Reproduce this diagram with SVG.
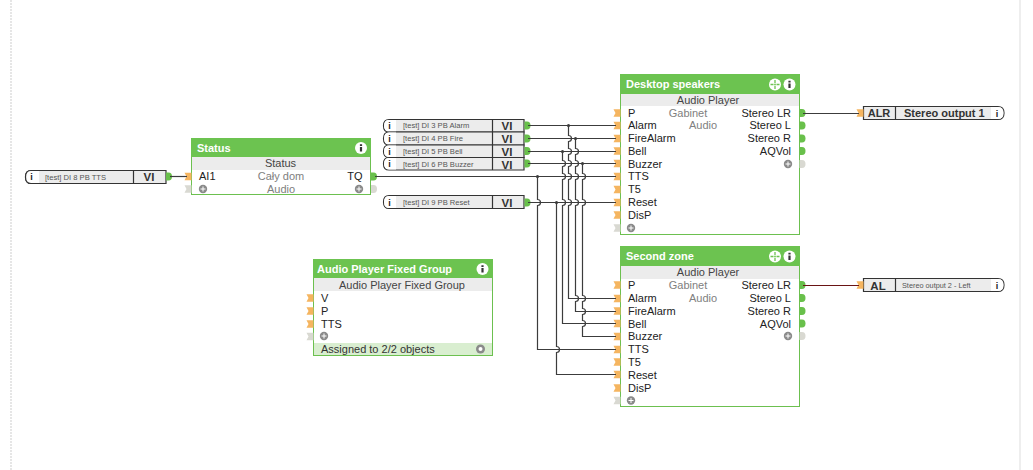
<svg xmlns="http://www.w3.org/2000/svg" width="1033" height="470" viewBox="0 0 1033 470">
<defs>
<style>
text{font-family:"Liberation Sans",Arial,sans-serif;font-size:11px;fill:#222}
.t{font-weight:bold;fill:#fff;font-size:11px}
.c{fill:#444;text-anchor:middle}
.g{fill:#808080;text-anchor:middle}
.e{text-anchor:end}
.b{fill:#fff;stroke:#6cc04f;stroke-width:1}
.h{fill:#6cc350}
.s{fill:#ececec}
.w{fill:none;stroke:#3c3c3c;stroke-width:1.200}
.box{fill:#ececec;stroke:#333;stroke-width:1.200}
.cap{fill:#fff;stroke:#333;stroke-width:1.200}
.capn{fill:#fff}
.vi{font-weight:bold;font-size:11.500px;text-anchor:middle;fill:#333}
.n{font-size:7.600px;fill:#555}
.i{font-size:9px;font-weight:bold;fill:#222;text-anchor:middle}
</style>
<path id="in" d="M-7-3.700H0V3.700H-7L-5 0Z" fill="#f5b560"/>
<path id="inx" d="M-7-3.700H0V3.700H-7L-5 0Z" fill="#d9d9d2"/>
<path id="out" d="M0-4H2.500Q6-4 6 0T2.500 4H0Z" fill="#69c04b"/>
<path id="outx" d="M0-4H2.500Q6-4 6 0T2.500 4H0Z" fill="#d9d9d2"/>
<g id="plus"><circle r="4.200" fill="#8a8a8a"/><path d="M-2.500 0H2.500M0-2.500V2.500" stroke="#fff"/></g>
<g id="info"><circle r="6" fill="#fff"/><path d="M-1.100-1H1.100V3.500H-1.100ZM-1.100-3.700H1.100V-2H-1.100Z" fill="#333"/></g>
<g id="mv"><circle r="6" fill="#fff"/><path d="M-4.500 0H-1.500M1.500 0H4.500M0-4.500V-1.500M0 1.500V4.500" stroke="#6cc350" stroke-width="1.300"/><circle r="0.900" fill="#6cc350"/></g>
</defs>
<rect width="1033" height="470" fill="#fff"/>
<path d="M11 0V470" stroke="#e6e6e6" stroke-width="2" stroke-dasharray="2 1"/>
<path d="M1020 0V470" stroke="#eeeeee" stroke-width="2"/>

<g id="src-tts"><path class="box" d="M31 170.500H166V183.500H31Q25.500 183.500 25.500 177T31 170.500Z"/><path class="cap" d="M39 170.500V183.500H31Q25.500 183.500 25.500 177T31 170.500Z" style="stroke:none"/><path d="M31 170.500H39M31 183.500H39M31 170.500Q25.500 170.500 25.500 177T31 183.500" fill="none" stroke="#333" stroke-width="1.200"/><path d="M133.500 170.500V183.500" stroke="#333" stroke-width="1.200"/><text class="i" x="31.500" y="180">i</text><text class="n" x="45" y="179.500">[test] DI 8 PB TTS</text><text class="vi" x="149" y="181">VI</text><use href="#out" x="166" y="176.500"/></g>

<g id="src-alarm"><path class="box" d="M389 119.500H524V132H389Q383.500 132 383.500 125.750T389 119.500Z"/><path class="capn" d="M396 120V131.500H389Q384 131.500 384 125.750T389 120Z"/><path d="M492.500 119.500V132" stroke="#333" stroke-width="1.200"/><text class="i" x="389.500" y="129">i</text><text class="n" x="403" y="127.700">[test] DI 3 PB Alarm</text><text class="vi" x="507" y="130">VI</text><use href="#out" x="524.500" y="125.500"/></g>
<g id="src-fire"><path class="box" d="M389 132H524V145H389Q383.500 145 383.500 138.500T389 132Z"/><path class="capn" d="M396 132.500V144.500H389Q384 144.500 384 138.500T389 132.500Z"/><path d="M492.500 132V145" stroke="#333" stroke-width="1.200"/><text class="i" x="389.500" y="142">i</text><text class="n" x="403" y="141">[test] DI 4 PB Fire</text><text class="vi" x="507" y="143">VI</text><use href="#out" x="524.500" y="138.500"/></g>
<g id="src-bell"><path class="box" d="M389 145H524V157.500H389Q383.500 157.500 383.500 151.250T389 145Z"/><path class="capn" d="M396 145.500V157H389Q384 157 384 151.250T389 145.500Z"/><path d="M492.500 145V157.500" stroke="#333" stroke-width="1.200"/><text class="i" x="389.500" y="154.500">i</text><text class="n" x="403" y="154">[test] DI 5 PB Bell</text><text class="vi" x="507" y="155.500">VI</text><use href="#out" x="524.500" y="151"/></g>
<g id="src-buzzer"><path class="box" d="M389 157.500H524V170H389Q383.500 170 383.500 163.750T389 157.500Z"/><path class="capn" d="M396 158V169.500H389Q384 169.500 384 163.750T389 158Z"/><path d="M492.500 157.500V170" stroke="#333" stroke-width="1.200"/><text class="i" x="389.500" y="167">i</text><text class="n" x="403" y="166.700">[test] DI 6 PB Buzzer</text><text class="vi" x="507" y="168.500">VI</text><use href="#out" x="524.500" y="163.500"/></g>
<g id="src-reset"><path class="box" d="M389 195.500H524V208.500H389Q383.500 208.500 383.500 202T389 195.500Z"/><path class="capn" d="M396 196V208H389Q384 208 384 202T389 196Z"/><path d="M492.500 195.500V208.500" stroke="#333" stroke-width="1.200"/><text class="i" x="389.500" y="205.500">i</text><text class="n" x="403" y="205">[test] DI 9 PB Reset</text><text class="vi" x="507" y="207">VI</text><use href="#out" x="524.500" y="202.500"/></g>

<g id="status">
<rect class="b" x="191.500" y="138.500" width="179" height="56"/><rect class="h" x="191" y="138" width="180" height="19"/><rect class="s" x="192" y="157" width="178" height="13"/>
<text class="t" x="197" y="152">Status</text><use href="#info" x="361" y="148"/>
<text class="c" x="280.500" y="167">Status</text>
<text x="199" y="180">AI1</text><text class="g" x="281" y="180">Cały dom</text><text class="e" x="362.500" y="180">TQ</text>
<text class="g" x="281" y="193">Audio</text>
<use href="#in" x="191.500" y="176.500"/><use href="#inx" x="191.500" y="189"/><use href="#plus" x="203" y="189"/><use href="#plus" x="359" y="189"/><use href="#out" x="371" y="176.500"/><use href="#outx" x="371" y="189"/>
</g>

<g id="fixed-group">
<rect class="b" x="313.500" y="259.500" width="179" height="96"/><rect class="h" x="313" y="259" width="180" height="19"/><rect class="s" x="314" y="278" width="178" height="13"/><rect x="314" y="343" width="178" height="12" fill="#d9eed0"/>
<text class="t" x="317" y="273">Audio Player Fixed Group</text><use href="#info" x="482.500" y="269"/>
<text class="c" x="402" y="289">Audio Player Fixed Group</text>
<text x="321" y="302">V</text><text x="321" y="315">P</text><text x="321" y="328">TTS</text>
<text x="321" y="353" style="fill:#333">Assigned to 2/2 objects</text>
<use href="#in" x="313.500" y="298"/><use href="#in" x="313.500" y="311"/><use href="#in" x="313.500" y="324"/><use href="#inx" x="313.500" y="336.500"/><use href="#plus" x="324" y="336"/>
<circle cx="480.500" cy="349" r="4.500" fill="#8a8a8a"/><circle cx="480.500" cy="349" r="2" fill="#fff"/>
</g>

<g id="desktop">
<rect class="b" x="620.500" y="74.500" width="179" height="160"/><rect class="h" x="620" y="74" width="180" height="20"/><rect class="s" x="621" y="94" width="178" height="12"/>
<text class="t" x="626" y="88">Desktop speakers</text><use href="#mv" x="775" y="84.500"/><use href="#info" x="789.500" y="84.500"/>
<text class="c" x="708" y="104">Audio Player</text>
<text x="628" y="117">P</text><text class="g" x="688" y="117">Gabinet</text><text class="e" x="791" y="117">Stereo LR</text>
<text x="628" y="129">Alarm</text><text class="g" x="703" y="129">Audio</text><text class="e" x="791" y="129">Stereo L</text>
<text x="628" y="142">FireAlarm</text><text class="e" x="791" y="142">Stereo R</text>
<text x="628" y="155">Bell</text><text class="e" x="791" y="155">AQVol</text>
<text x="628" y="167.500">Buzzer</text><text x="628" y="180">TTS</text><text x="628" y="193">T5</text><text x="628" y="206">Reset</text><text x="628" y="219">DisP</text>
<use href="#in" x="620.500" y="113"/><use href="#in" x="620.500" y="125.500"/><use href="#in" x="620.500" y="138.500"/><use href="#in" x="620.500" y="151"/><use href="#in" x="620.500" y="163.500"/><use href="#in" x="620.500" y="176.500"/><use href="#in" x="620.500" y="189.500"/><use href="#in" x="620.500" y="202.500"/><use href="#in" x="620.500" y="215"/><use href="#inx" x="620.500" y="228"/><use href="#plus" x="631" y="228"/>
<use href="#out" x="799.500" y="113"/><use href="#out" x="799.500" y="125.500"/><use href="#out" x="799.500" y="138.500"/><use href="#out" x="799.500" y="151"/><use href="#outx" x="799.500" y="164"/><use href="#plus" x="788" y="164"/>
</g>

<g id="second">
<rect class="b" x="620.500" y="246.500" width="179" height="160"/><rect class="h" x="620" y="246" width="180" height="20"/><rect class="s" x="621" y="266" width="178" height="13"/>
<text class="t" x="626" y="260">Second zone</text><use href="#mv" x="775" y="256.500"/><use href="#info" x="789.500" y="256.500"/>
<text class="c" x="708" y="276">Audio Player</text>
<text x="628" y="289">P</text><text class="g" x="688" y="289">Gabinet</text><text class="e" x="791" y="289">Stereo LR</text>
<text x="628" y="302">Alarm</text><text class="g" x="703" y="302">Audio</text><text class="e" x="791" y="302">Stereo L</text>
<text x="628" y="315">FireAlarm</text><text class="e" x="791" y="315">Stereo R</text>
<text x="628" y="328">Bell</text><text class="e" x="791" y="328">AQVol</text>
<text x="628" y="340">Buzzer</text><text x="628" y="353">TTS</text><text x="628" y="366">T5</text><text x="628" y="379">Reset</text><text x="628" y="392">DisP</text>
<use href="#in" x="620.500" y="285"/><use href="#in" x="620.500" y="298.500"/><use href="#in" x="620.500" y="311"/><use href="#in" x="620.500" y="323.500"/><use href="#in" x="620.500" y="336.500"/><use href="#in" x="620.500" y="349.500"/><use href="#in" x="620.500" y="362"/><use href="#in" x="620.500" y="374.500"/><use href="#in" x="620.500" y="388"/><use href="#inx" x="620.500" y="400.500"/><use href="#plus" x="631" y="400.500"/>
<use href="#out" x="799.500" y="285"/><use href="#out" x="799.500" y="298"/><use href="#out" x="799.500" y="311"/><use href="#out" x="799.500" y="323.500"/><use href="#outx" x="799.500" y="336"/><use href="#plus" x="788" y="336"/>
</g>

<g id="out-alr"><path class="box" d="M863.500 106.500H998Q1004 106.500 1004 113T998 119.500H863.500Z"/><path class="capn" d="M991 107H998Q1003.500 107 1003.500 113T998 119H991Z"/><path d="M895.500 106.500V119.500" stroke="#333" stroke-width="1.200"/><text class="vi" x="879" y="117" style="font-size:11px">ALR</text><text x="904" y="117" style="font-weight:bold;fill:#333">Stereo output 1</text><text class="i" x="997" y="116.500">i</text><use href="#in" x="863.500" y="113"/></g>
<g id="out-al"><path class="box" d="M863.500 278.500H998Q1004 278.500 1004 285T998 291.500H863.500Z"/><path class="capn" d="M991 279H998Q1003.500 279 1003.500 285T998 291H991Z"/><path d="M895.500 278.500V291.500" stroke="#333" stroke-width="1.200"/><text class="vi" x="878" y="289.500">AL</text><text class="n" x="902" y="287.500" style="font-size:7.300px">Stereo output 2 - Left</text><text class="i" x="997" y="288.500">i</text><use href="#in" x="863.500" y="285"/></g>

<g id="connectors">
<path class="w" d="M170 176.500H187"/>
<path class="w" d="M375 176.500H616"/>
<path class="w" d="M528 125.500H616"/>
<path class="w" d="M528 138.500H616"/>
<path class="w" d="M528 151.500H616"/>
<path class="w" d="M528 163.500H616"/>
<path class="w" d="M528 202.500H616"/>
<path class="w" d="M803 113.500H859"/>
<path d="M803 285.500H859" stroke="#6a1414" stroke-width="1.200" fill="none"/>
<path class="w" d="M537.500 176.500V199.500A3 3 0 0 1 537.500 205.500V349.500H616"/>
<path class="w" d="M556.500 202.500V346.500A3 3 0 0 1 556.500 352.500V374.500H616"/>
<path class="w" d="M562.500 151.500V160.500A3 3 0 0 1 562.500 166.500V173.500A3 3 0 0 1 562.500 179.500V199.500A3 3 0 0 1 562.500 205.500V323.500H616"/>
<path class="w" d="M568.500 125.500V135.500A3 3 0 0 1 568.500 141.500V148.500A3 3 0 0 1 568.500 154.500V160.500A3 3 0 0 1 568.500 166.500V173.500A3 3 0 0 1 568.500 179.500V199.500A3 3 0 0 1 568.500 205.500V298.500H616"/>
<path class="w" d="M575.500 138.500V148.500A3 3 0 0 1 575.500 154.500V160.500A3 3 0 0 1 575.500 166.500V173.500A3 3 0 0 1 575.500 179.500V199.500A3 3 0 0 1 575.500 205.500V295.500A3 3 0 0 1 575.500 301.500V311.500H616"/>
<path class="w" d="M582.500 163.500V173.500A3 3 0 0 1 582.500 179.500V199.500A3 3 0 0 1 582.500 205.500V295.500A3 3 0 0 1 582.500 301.500V308.500A3 3 0 0 1 582.500 314.500V320.500A3 3 0 0 1 582.500 326.500V336.500H616"/>
<g fill="#3c3c3c"><circle cx="537.500" cy="176.500" r="1.600"/><circle cx="556.500" cy="202.500" r="1.600"/><circle cx="562.500" cy="151.500" r="1.600"/><circle cx="568.500" cy="125.500" r="1.600"/><circle cx="575.500" cy="138.500" r="1.600"/><circle cx="582.500" cy="163.500" r="1.600"/></g>
</g>
</svg>
